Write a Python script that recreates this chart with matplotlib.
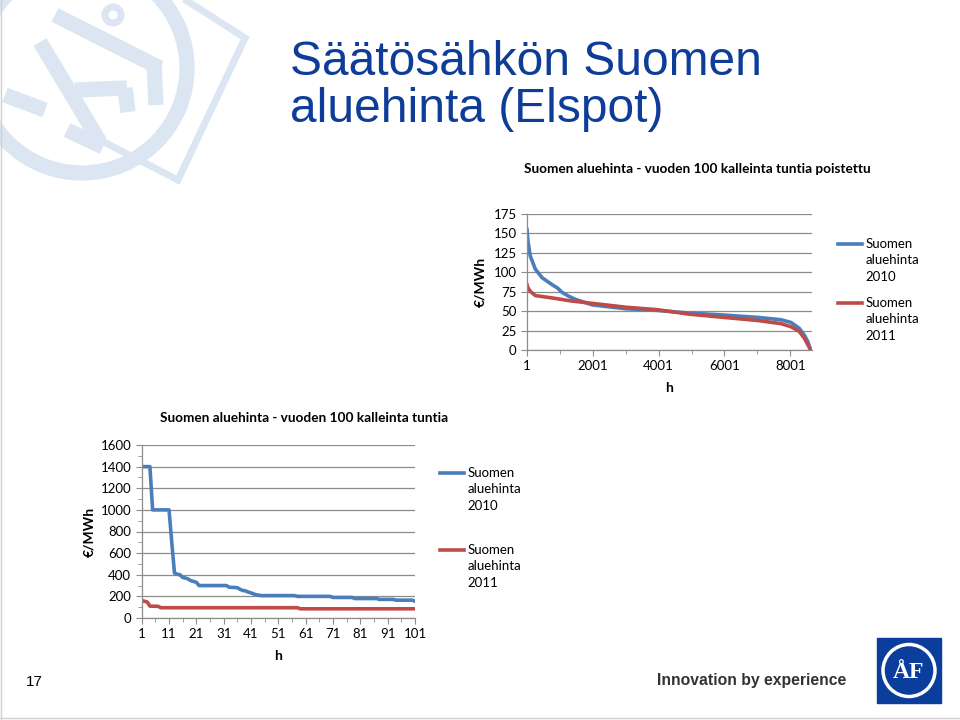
import matplotlib.pyplot as plt
from matplotlib.patches import Circle, Polygon, Rectangle
from matplotlib.lines import Line2D
from matplotlib.legend_handler import HandlerLine2D
from matplotlib.ticker import MultipleLocator, FixedLocator

# top chart: duration curve, 100 most expensive hours removed
hours_top_2010 = [1, 30, 100, 255, 460, 766, 920, 1072, 1277, 1480, 1990, 3015,
                  3930, 4950, 5975, 7000, 7710, 8020, 8270, 8430, 8530, 8620]
price_top_2010 = [155, 140, 121, 104, 93, 84, 80, 74, 69, 65, 58, 53,
                  51, 47.5, 45, 42, 39, 35.5, 28, 19, 11, 0]
hours_top_2011 = [1, 30, 100, 255, 766, 1277, 1990, 3015, 3930, 4950, 5975,
                  7000, 7710, 8020, 8270, 8430, 8580, 8630]
price_top_2011 = [84, 80, 75.5, 70, 67, 63.5, 60, 55, 52, 46, 42,
                  38, 34, 30, 24, 15, 3, 0]

# bottom chart: the 100 most expensive hours
hours_100_2010 = [2, 4, 5, 11, 12, 13, 14, 15, 16, 17, 18, 19, 20, 21, 22, 32, 33, 36,
                  37, 38, 39, 40, 41, 42, 43, 44, 45, 57, 58, 70, 71, 78, 79, 87, 88,
                  93, 94, 100, 101]
price_100_2010 = [1400, 1400, 1000, 1000, 700, 415, 405, 400, 375, 370, 360, 345, 338,
                  330, 300, 300, 285, 280, 265, 255, 250, 240, 232, 222, 215, 210,
                  207, 207, 200, 200, 190, 190, 180, 180, 172, 172, 165, 165, 155]
hours_100_2011 = [2, 3, 4, 7, 8, 58, 59, 101]
price_100_2011 = [155, 148, 110, 108, 95, 95, 85, 85]

labels = ['Suomen\naluehinta\n2010', 'Suomen\naluehinta\n2011']
blue = '#4A7EBB'
red = '#BE4B48'
grid_c = '#8C8C8C'
fnt = 'Lato'
W, H = 960, 720


class TopLine(HandlerLine2D):
    # put the legend line level with the first line of the label
    def create_artists(self, legend, orig_handle, xdescent, ydescent, width,
                       height, fontsize, trans):
        arts = super().create_artists(legend, orig_handle, xdescent, ydescent,
                                      width, height, fontsize, trans)
        for a in arts:
            a.set_ydata([y + 12 for y in a.get_ydata()])
        return arts


fig = plt.figure(figsize=(9.6, 7.2), dpi=100)

# background: watermark logo, frame, bottom logo
wm = '#DCE6F2'
bg = fig.add_axes([0, 0, 1, 1], zorder=-5)
bg.set_xlim(0, W)
bg.set_ylim(H, 0)
bg.axis('off')
bg.add_patch(Circle((82, 68), 105, fill=False, lw=11, ec=wm))
bg.add_patch(Polygon([(170, -10), (245, 38), (178, 180), (100, 140)], closed=False,
                     fill=False, lw=5, ec=wm))
bg.add_patch(Circle((113, 15), 8, fill=False, lw=5, ec=wm))
for seg in [((55, 15), (160, 68)), ((154, 62), (156, 105)), ((40, 42), (100, 142)),
            ((5, 95), (45, 110)), ((75, 90), (127, 88)), ((125, 88), (128, 112)),
            ((67, 130), (103, 147))]:
    bg.add_line(Line2D([seg[0][0], seg[1][0]], [seg[0][1], seg[1][1]], lw=11,
                       color=wm, solid_capstyle='butt'))
bg.add_line(Line2D([1, 1], [0, H], lw=1, color='#D0D0D0'))
bg.add_line(Line2D([0, W], [718, 718], lw=1, color='#D0D0D0'))
bg.add_patch(Rectangle((877, 638), 64, 65, color='#0B3D9C'))
bg.add_patch(Circle((909, 670.5), 26, fill=False, lw=2.5, ec='white'))
bg.text(909, 672, 'ÅF', color='white', fontsize=17, fontweight='bold',
        ha='center', va='center', family='Liberation Serif')

title_c = '#0D3C99'
fig.text(290 / W, 1 - 75 / H, 'Säätösähkön Suomen', fontsize=34.5, color=title_c,
         family='Liberation Sans', ha='left', va='baseline')
fig.text(290 / W, 1 - 122 / H, 'aluehinta (Elspot)', fontsize=34.5, color=title_c,
         family='Liberation Sans', ha='left', va='baseline')
fig.text(657 / W, 1 - 680 / H, 'Innovation by experience', fontsize=11.3,
         fontweight='bold', color='#333333', family='Liberation Sans',
         ha='left', va='center')
fig.text(26 / W, 1 - 682 / H, '17', fontsize=11, color='black',
         family='Liberation Sans', va='center')


def style(ax):
    for s in ['top', 'right']:
        ax.spines[s].set_visible(False)
    for s in ['left', 'bottom']:
        ax.spines[s].set_color(grid_c)
        ax.spines[s].set_linewidth(0.9)
    ax.grid(axis='y', color=grid_c, lw=0.9)
    ax.set_axisbelow(True)
    ax.tick_params(which='both', color=grid_c, length=4, labelsize=9.5,
                   labelfontfamily=fnt)
    ax.tick_params(which='minor', length=3)


def add_legend(ax, x, y, spacing):
    leg = ax.legend(loc='upper left', bbox_to_anchor=(x / W, 1 - y / H),
                    bbox_transform=fig.transFigure, frameon=False,
                    handlelength=1.8, handletextpad=0.3, labelspacing=spacing,
                    handler_map={Line2D: TopLine()},
                    prop={'family': fnt, 'size': 9.5})
    for t in leg.get_texts():
        t.set_linespacing(1.45)
    return leg


# top chart
ax1 = fig.add_axes([527 / W, 1 - 350 / H, 285 / W, 136 / H])
ax1.plot(hours_top_2010, price_top_2010, color=blue, lw=2.6, label=labels[0])
ax1.plot(hours_top_2011, price_top_2011, color=red, lw=2.6, label=labels[1])
ax1.set_xlim(1, 8660)
ax1.set_ylim(0, 175)
ax1.yaxis.set_major_locator(MultipleLocator(25))
ax1.xaxis.set_major_locator(FixedLocator([1, 2001, 4001, 6001, 8001]))
ax1.xaxis.set_minor_locator(FixedLocator([1001, 3001, 5001, 7001]))
style(ax1)
fig.text(697 / W, 1 - 169 / H, 'Suomen aluehinta - vuoden 100 kalleinta tuntia poistettu',
         fontsize=9.8, fontweight='bold', family=fnt, ha='center', va='center')
ax1.set_ylabel('€/MWh', fontsize=10, fontweight='bold', family=fnt, labelpad=5)
ax1.set_xlabel('h', fontsize=10, fontweight='bold', family=fnt, labelpad=7)
add_legend(ax1, 826, 226, 1.05)

# bottom chart
ax2 = fig.add_axes([141.7 / W, 1 - 618 / H, 273.3 / W, 173 / H])
ax2.plot(hours_100_2010, price_100_2010, color=blue, lw=2.6, label=labels[0])
ax2.plot(hours_100_2011, price_100_2011, color=red, lw=2.6, label=labels[1])
ax2.set_xlim(1, 101)
ax2.set_ylim(0, 1600)
ax2.yaxis.set_major_locator(MultipleLocator(200))
ax2.yaxis.set_minor_locator(MultipleLocator(100))
ax2.xaxis.set_major_locator(FixedLocator(list(range(1, 102, 10))))
ax2.xaxis.set_minor_locator(FixedLocator(list(range(6, 102, 10))))
style(ax2)
fig.text(304 / W, 1 - 418 / H, 'Suomen aluehinta - vuoden 100 kalleinta tuntia',
         fontsize=9.8, fontweight='bold', family=fnt, ha='center', va='center')
ax2.set_ylabel('€/MWh', fontsize=10, fontweight='bold', family=fnt, labelpad=4)
ax2.set_xlabel('h', fontsize=10, fontweight='bold', family=fnt, labelpad=7)
add_legend(ax2, 428, 455, 2.4)

fig.savefig('out.png', dpi=100)
